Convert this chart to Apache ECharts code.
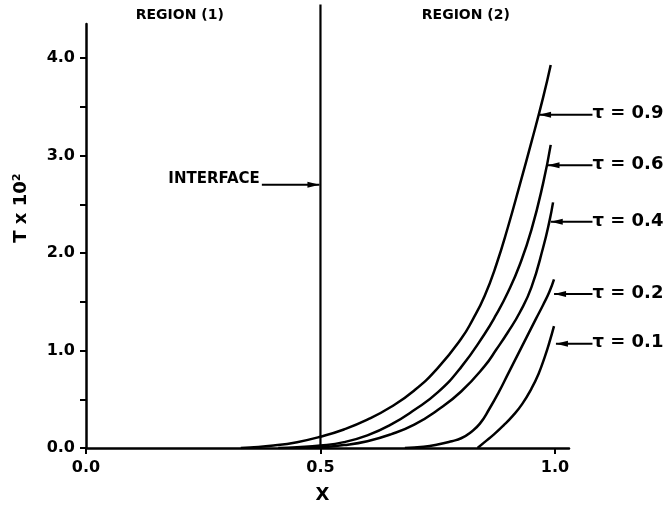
<!DOCTYPE html>
<html><head><meta charset="utf-8">
<script src="https://cdn.jsdelivr.net/npm/echarts@6/dist/echarts.min.js"></script>
<style>html,body{margin:0;background:#fff}#c{width:669px;height:512px}</style>
</head><body><div id="c"></div>
<script>
// ---- data (x, T x 10^2) ----
const tauNames = ['τ = 0.9', 'τ = 0.6', 'τ = 0.4', 'τ = 0.2', 'τ = 0.1'];
const curveTau09 = [[0.33,0],[0.35,0.005],[0.40,0.025],[0.45,0.06],[0.50,0.116],[0.55,0.19],[0.60,0.29],[0.65,0.42],[0.70,0.59],[0.75,0.82],[0.80,1.12],[0.825,1.32],[0.85,1.56],[0.875,1.88],[0.90,2.27],[0.925,2.70],[0.95,3.14],[0.975,3.60],[0.991,3.93]];
const curveTau06 = [[0.41,0],[0.45,0.008],[0.50,0.025],[0.55,0.06],[0.60,0.13],[0.65,0.24],[0.70,0.39],[0.75,0.57],[0.80,0.83],[0.85,1.17],[0.875,1.37],[0.90,1.60],[0.925,1.88],[0.95,2.24],[0.975,2.72],[0.991,3.11]];
const curveTau04 = [[0.47,0],[0.50,0.008],[0.55,0.03],[0.60,0.07],[0.65,0.14],[0.70,0.24],[0.75,0.39],[0.80,0.58],[0.85,0.84],[0.875,1.01],[0.90,1.19],[0.925,1.39],[0.95,1.65],[0.975,2.06],[0.988,2.32],[0.996,2.52]];
const curveTau02 = [[0.68,0],[0.72,0.012],[0.75,0.035],[0.78,0.07],[0.80,0.10],[0.82,0.16],[0.84,0.25],[0.86,0.40],[0.88,0.57],[0.90,0.76],[0.92,0.95],[0.94,1.14],[0.96,1.33],[0.975,1.47],[0.988,1.60],[0.998,1.73]];
const curveTau01 = [[0.835,0],[0.85,0.06],[0.87,0.14],[0.89,0.23],[0.91,0.33],[0.93,0.45],[0.95,0.61],[0.965,0.76],[0.978,0.93],[0.988,1.08],[0.998,1.25]];
const curves = [curveTau09, curveTau06, curveTau04, curveTau02, curveTau01];
const arrowY = [3.42, 2.90, 2.32, 1.58, 1.07];
const arrowX = [0.964, 0.982, 0.989, 0.996, 1.0];
const labelX = 1.08;
const interfaceX = 0.5;
const interfaceTop = 4.55;
const interfaceArrowY = 2.70;
const interfaceArrowFrom = 0.375;
const yTickValues = [0, 0.5, 1, 1.5, 2, 2.5, 3, 3.5, 4];
const yLabelValues = [0, 1, 2, 3, 4];
const xTickValues = [0, 0.5, 1];
const regionNames = ['REGION (1)', 'REGION (2)'];

const FONT = 'DejaVu Sans';
const chart = echarts.init(document.getElementById('c'), null, {renderer: 'canvas'});
const option = {
  animation: false,
  backgroundColor: '#fff',
  grid: {left: 86, right: 100, top: 24, bottom: 64},
  xAxis: {
    type: 'value', min: 0, max: 1.03,
    axisLine: {lineStyle: {color: '#000', width: 2.5}},
    axisTick: {customValues: xTickValues, length: 6, lineStyle: {color: '#000', width: 2}},
    axisLabel: {customValues: xTickValues, formatter: v => v.toFixed(1), margin: 12,
      color: '#000', fontFamily: FONT, fontWeight: 'bold', fontSize: 16},
    splitLine: {show: false}
  },
  yAxis: {
    type: 'value', min: 0, max: 4.35,
    axisLine: {show: true, lineStyle: {color: '#000', width: 2.5}},
    axisTick: {show: true, customValues: yTickValues, length: 6, lineStyle: {color: '#000', width: 2}},
    axisLabel: {customValues: yLabelValues, formatter: v => v.toFixed(1), margin: 11,
      padding: [0, 0, 8, 0],
      color: '#000', fontFamily: FONT, fontWeight: 'bold', fontSize: 16},
    splitLine: {show: false}
  },
  series: curves.map((c, i) => ({
    type: 'line', name: tauNames[i], data: c, showSymbol: false, symbol: 'none',
    smooth: 0.5,
    lineStyle: {color: '#000', width: 2.5}
  }))
};
chart.setOption(option);

const P = (x, y) => chart.convertToPixel({gridIndex: 0}, [x, y]);
const g = [];
function arrow(x0, y0, x1) {
  const dir = x1 > x0 ? 1 : -1;
  g.push({type: 'line', shape: {x1: x0, y1: y0, x2: x1, y2: y0}, style: {stroke: '#000', lineWidth: 2}});
  g.push({type: 'polygon', shape: {points: [[x0, y0], [x0 + dir * 12, y0 - 3], [x0 + dir * 12, y0 + 3]]}, style: {fill: '#000'}});
}
// interface line
const iTop = P(interfaceX, interfaceTop), iBot = P(interfaceX, 0);
g.push({type: 'line', shape: {x1: iTop[0], y1: iTop[1], x2: iBot[0], y2: iBot[1]}, style: {stroke: '#000', lineWidth: 2.2}});
// interface arrow & label
const ia = P(interfaceX, interfaceArrowY), ib = P(interfaceArrowFrom, interfaceArrowY);
arrow(ia[0] - 1, ia[1], ib[0]);
g.push({type: 'text', x: ib[0] - 2, y: ia[1] + 2, style: {text: 'INTERFACE', fill: '#000', font: 'bold 15px ' + FONT, align: 'right', verticalAlign: 'bottom'}});
// tau arrows & labels
tauNames.forEach((name, i) => {
  const a = P(arrowX[i], arrowY[i]), b = P(labelX, arrowY[i]);
  arrow(a[0] + 1, a[1], b[0]);
  g.push({type: 'text', x: b[0], y: a[1] - 1, style: {text: name, fill: '#000', font: 'bold 18px ' + FONT, align: 'left', verticalAlign: 'middle'}});
});
// region titles
const r1 = P(0.2, 0), r2 = P(0.81, 0);
g.push({type: 'text', x: r1[0], y: 15, style: {text: regionNames[0], fill: '#000', font: 'bold 14px ' + FONT, align: 'center', verticalAlign: 'middle'}});
g.push({type: 'text', x: r2[0], y: 15, style: {text: regionNames[1], fill: '#000', font: 'bold 14px ' + FONT, align: 'center', verticalAlign: 'middle'}});
// axis names
const xn = P(0.5, 0);
g.push({type: 'text', x: xn[0] + 2, y: 495, style: {text: 'X', fill: '#000', font: 'bold 18px ' + FONT, align: 'center', verticalAlign: 'middle'}});
g.push({type: 'text', x: 21, y: 208, rotation: Math.PI / 2, style: {text: 'T x 10²', fill: '#000', font: 'bold 18px ' + FONT, align: 'center', verticalAlign: 'middle'}});
chart.setOption({graphic: {elements: g}});
</script>
</body></html>
